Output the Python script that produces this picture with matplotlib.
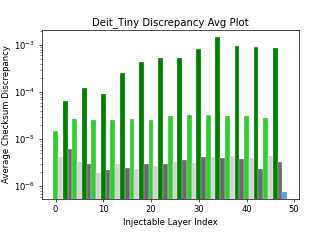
import numpy as np
import matplotlib
matplotlib.use('Agg')
import matplotlib.pyplot as plt

# avg checksum discrepancy per injectable layer
layers = list(range(49))
avg_disc = [1.48e-5, 4.2e-6, 6.4e-5, 6.2e-6,
            2.7e-5, 3.3e-6, 1.2e-4, 3.0e-6,
            2.57e-5, 1.9e-6, 9.3e-5, 2.2e-6,
            2.5e-5, 2.95e-6, 2.5e-4, 2.45e-6,
            2.7e-5, 2.3e-6, 4.4e-4, 2.9e-6,
            2.5e-5, 2.75e-6, 5.3e-4, 3.0e-6,
            3.1e-5, 3.35e-6, 5.3e-4, 3.6e-6,
            3.2e-5, 3.1e-6, 8.2e-4, 4.1e-6,
            3.2e-5, 4.2e-6, 1.46e-3, 4.0e-6,
            3.1e-5, 4.4e-6, 9.5e-4, 3.75e-6,
            3.1e-5, 3.95e-6, 9.1e-4, 2.3e-6,
            2.84e-5, 4.35e-6, 8.8e-4, 3.2e-6,
            7.7e-7]

cycle = ['limegreen', 'lightgray', 'green', 'dimgray']
colors = [cycle[i % 4] for i in layers[:-1]] + ['cornflowerblue']

dpi = 61
fig, ax = plt.subplots(figsize=(332 / dpi, 249 / dpi), dpi=dpi)
fig.subplots_adjust(bottom=0.2)

ax.bar(layers, avg_disc, width=1.0, color=colors, edgecolor='white', linewidth=0.3)
ax.set_yscale('log')
ax.set_ylim(5.3e-7, 2.1e-3)

ax.set_title('Deit_Tiny Discrepancy Avg Plot')
ax.set_xlabel('Injectable Layer Index')
ax.set_ylabel('Average Checksum Discrepancy')

plt.savefig('out.png', dpi=dpi)
